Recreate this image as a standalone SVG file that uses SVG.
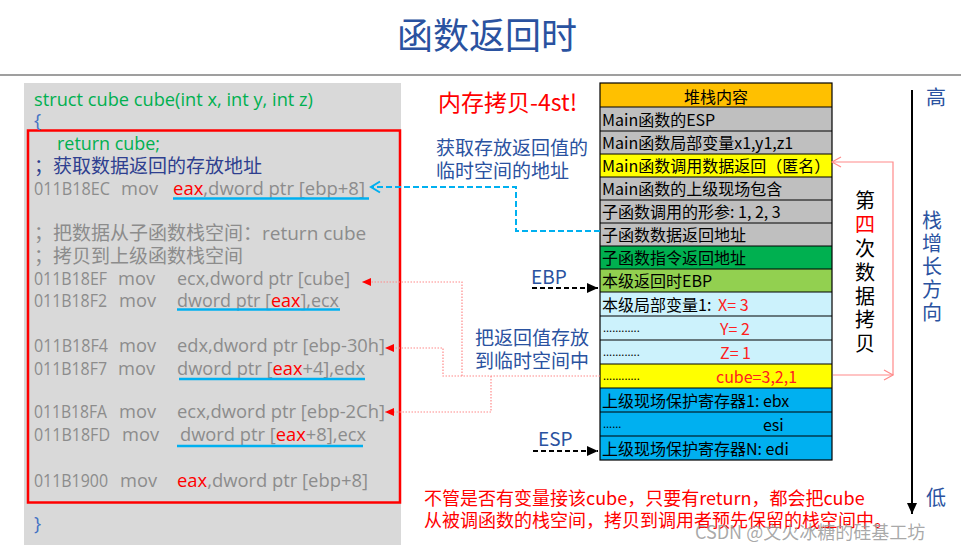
<svg xmlns="http://www.w3.org/2000/svg" width="961" height="548" viewBox="0 0 961 548">
<style>
text{font-family:"Open Sans","Noto Sans CJK SC",sans-serif}
.cjk{font-family:"Noto Sans CJK SC","Noto Sans",sans-serif}
.code{font-size:19px;fill:#8C8C8C}
.red{fill:#FF0000}
.grn{fill:#00B050}
.blue{fill:#2A52A0}
.row{stroke:#000;stroke-width:1}
.rt{font-family:"Noto Sans CJK SC",sans-serif;font-size:16px;fill:#000}
.rr{font-family:"Noto Sans CJK SC",sans-serif;font-size:16px;fill:#FF2020}
.dots{font-family:"Noto Sans CJK SC",sans-serif;font-size:11px;fill:#000}
.ul{stroke:#00B0F0;stroke-width:2.5}
.pink{fill:none;stroke:#FF8A8A;stroke-width:1.2;stroke-dasharray:1.5 1.5}
.vt{font-family:"Noto Sans CJK SC",sans-serif;font-size:20px;text-anchor:middle}
</style>
<defs>
<marker id="arrBlk" markerUnits="userSpaceOnUse" markerWidth="12" markerHeight="12" viewBox="0 0 12 12" refX="11" refY="6" orient="auto"><path d="M0,1 L11,6 L0,11 Z" fill="#000"/></marker>
<marker id="arrRed" markerUnits="userSpaceOnUse" markerWidth="10" markerHeight="10" viewBox="0 0 10 10" refX="9" refY="5" orient="auto"><path d="M0,1 L9,5 L0,9 Z" fill="#FF0000"/></marker>
<marker id="chevCyan" markerUnits="userSpaceOnUse" markerWidth="14" markerHeight="14" viewBox="0 0 14 14" refX="12" refY="7" orient="auto"><path d="M3,1.5 L12,7 L3,12.5" fill="none" stroke="#00B0F0" stroke-width="2"/></marker>
<marker id="chevPink" markerUnits="userSpaceOnUse" markerWidth="14" markerHeight="14" viewBox="0 0 14 14" refX="12" refY="7" orient="auto"><path d="M3,2 L12,7 L3,12" fill="none" stroke="#FF8A8A" stroke-width="1.2"/></marker>
</defs>
<rect width="961" height="548" fill="#FFFFFF"/>

<g id="title">
<text class="cjk blue" x="487" y="49" font-size="36" text-anchor="middle">函数返回时</text>
<line x1="0" y1="75" x2="961" y2="75" stroke="#7F7F7F" stroke-width="1.5"/>
</g>

<g id="code-panel">
<rect x="24" y="83" width="377" height="462" fill="#D9D9D9"/>
<rect x="28" y="130.5" width="372" height="372" fill="none" stroke="#FF0000" stroke-width="2.5"/>
<text class="grn" x="34" y="106" font-size="19" textLength="279" lengthAdjust="spacingAndGlyphs">struct cube cube(int x, int y, int z)</text>
<text x="34" y="127" font-size="19" fill="#4472C4">{</text>
<text class="grn" x="57" y="150" font-size="19" textLength="103" lengthAdjust="spacingAndGlyphs">return cube;</text>
<text class="cjk" x="34" y="173" font-size="19" fill="#2E3F8F">；获取数据返回的存放地址</text>

<text class="code" x="34" y="195" textLength="76" lengthAdjust="spacingAndGlyphs">011B18EC</text>
<text class="code" x="121" y="195" textLength="37" lengthAdjust="spacingAndGlyphs">mov</text>
<text class="code" x="173" y="195" textLength="192" lengthAdjust="spacingAndGlyphs"><tspan class="red">eax</tspan>,dword ptr [ebp+8]</text>
<line class="ul" x1="173" y1="198.5" x2="369" y2="198.5"/>

<text class="code cjk" x="34" y="240">；把数据从子函数栈空间：<tspan style="font-family:'Open Sans',sans-serif">return cube</tspan></text>
<text class="code cjk" x="34" y="263">；拷贝到上级函数栈空间</text>

<text class="code" x="34" y="285" textLength="73" lengthAdjust="spacingAndGlyphs">011B18EF</text>
<text class="code" x="118" y="285" textLength="37" lengthAdjust="spacingAndGlyphs">mov</text>
<text class="code" x="177" y="285" textLength="173" lengthAdjust="spacingAndGlyphs">ecx,dword ptr [cube]</text>

<text class="code" x="34" y="307" textLength="73" lengthAdjust="spacingAndGlyphs">011B18F2</text>
<text class="code" x="119" y="307" textLength="37" lengthAdjust="spacingAndGlyphs">mov</text>
<text class="code" x="177" y="307" textLength="162" lengthAdjust="spacingAndGlyphs">dword ptr [<tspan class="red">eax</tspan>],ecx</text>
<line class="ul" x1="177" y1="309.5" x2="340" y2="309.5"/>

<text class="code" x="34" y="352" textLength="74" lengthAdjust="spacingAndGlyphs">011B18F4</text>
<text class="code" x="119" y="352" textLength="37" lengthAdjust="spacingAndGlyphs">mov</text>
<text class="code" x="177" y="352" textLength="208" lengthAdjust="spacingAndGlyphs">edx,dword ptr [ebp-30h]</text>

<text class="code" x="34" y="375" textLength="73" lengthAdjust="spacingAndGlyphs">011B18F7</text>
<text class="code" x="118" y="375" textLength="37" lengthAdjust="spacingAndGlyphs">mov</text>
<text class="code" x="177" y="375" textLength="188" lengthAdjust="spacingAndGlyphs">dword ptr [<tspan class="red">eax</tspan>+4],edx</text>
<line class="ul" x1="179" y1="379" x2="365" y2="379"/>

<text class="code" x="34" y="418" textLength="73" lengthAdjust="spacingAndGlyphs">011B18FA</text>
<text class="code" x="119" y="418" textLength="37" lengthAdjust="spacingAndGlyphs">mov</text>
<text class="code" x="177" y="418" textLength="208" lengthAdjust="spacingAndGlyphs">ecx,dword ptr [ebp-2Ch]</text>

<text class="code" x="34" y="441" textLength="76" lengthAdjust="spacingAndGlyphs">011B18FD</text>
<text class="code" x="122" y="441" textLength="37" lengthAdjust="spacingAndGlyphs">mov</text>
<text class="code" x="180" y="441" textLength="186" lengthAdjust="spacingAndGlyphs">dword ptr [<tspan class="red">eax</tspan>+8],ecx</text>
<line class="ul" x1="177" y1="446" x2="363" y2="446"/>

<text class="code" x="34" y="487" textLength="74" lengthAdjust="spacingAndGlyphs">011B1900</text>
<text class="code" x="120" y="487" textLength="37" lengthAdjust="spacingAndGlyphs">mov</text>
<text class="code" x="177" y="487" textLength="191" lengthAdjust="spacingAndGlyphs"><tspan class="red">eax</tspan>,dword ptr [ebp+8]</text>

<text x="34" y="530" font-size="19" fill="#4472C4">}</text>
</g>

<g id="notes">
<text class="cjk red" x="438" y="111" font-size="23">内存拷贝-4st!</text>
<text class="cjk blue" x="436" y="155" font-size="19">获取存放返回值的</text>
<text class="cjk blue" x="436" y="178" font-size="19">临时空间的地址</text>
<text class="cjk blue" x="475" y="345" font-size="19">把返回值存放</text>
<text class="cjk blue" x="475" y="368" font-size="19">到临时空间中</text>
<text class="cjk red" x="424" y="505" font-size="18">不管是否有变量接该cube，只要有return，都会把cube</text>
<text class="cjk red" x="424" y="527" font-size="18">从被调函数的栈空间，拷贝到调用者预先保留的栈空间中。</text>
</g>

<g id="stack">
<rect x="600" y="83" width="232" height="24" fill="#FFC000"/>
<rect x="600" y="107" width="232" height="47" fill="#BFBFBF"/>
<rect x="600" y="154" width="232" height="23" fill="#FFFF00"/>
<rect x="600" y="177" width="232" height="69" fill="#BFBFBF"/>
<rect x="600" y="246" width="232" height="23" fill="#00B050"/>
<rect x="600" y="269" width="232" height="23" fill="#92D050"/>
<rect x="600" y="292" width="232" height="72" fill="#CCF2FC"/>
<rect x="600" y="364" width="232" height="24" fill="#FFFF00"/>
<rect x="600" y="388" width="232" height="72" fill="#00B0F0"/>
<g class="row">
<line x1="600" y1="107" x2="832" y2="107"/><line x1="600" y1="131" x2="832" y2="131"/>
<line x1="600" y1="154" x2="832" y2="154"/><line x1="600" y1="177" x2="832" y2="177"/>
<line x1="600" y1="200" x2="832" y2="200"/><line x1="600" y1="223" x2="832" y2="223"/>
<line x1="600" y1="246" x2="832" y2="246"/><line x1="600" y1="269" x2="832" y2="269"/>
<line x1="600" y1="292" x2="832" y2="292"/><line x1="600" y1="316" x2="832" y2="316"/>
<line x1="600" y1="340" x2="832" y2="340"/><line x1="600" y1="364" x2="832" y2="364"/>
<line x1="600" y1="388" x2="832" y2="388"/><line x1="600" y1="412" x2="832" y2="412"/>
<line x1="600" y1="436" x2="832" y2="436"/>
</g>
<rect x="600" y="83" width="232" height="377" fill="none" stroke="#000" stroke-width="1.2"/>
<text class="rt" x="716" y="103" text-anchor="middle">堆栈内容</text>
<text class="rt" x="602" y="126">Main函数的ESP</text>
<text class="rt" x="602" y="149">Main函数局部变量x1,y1,z1</text>
<text class="rt" x="602" y="172">Main函数调用数据返回（匿名）</text>
<text class="rt" x="602" y="195">Main函数的上级现场包含</text>
<text class="rt" x="602" y="218">子函数调用的形参: 1, 2, 3</text>
<text class="rt" x="602" y="241">子函数数据返回地址</text>
<text class="rt" x="602" y="264">子函数指令返回地址</text>
<text class="rt" x="602" y="287">本级返回时EBP</text>
<text class="rt" x="602" y="311">本级局部变量1: </text>
<text class="rr" x="718" y="311">X= 3</text>
<text class="dots" x="603" y="332">............</text>
<text class="rr" x="720" y="335">Y= 2</text>
<text class="dots" x="603" y="356">............</text>
<text class="rr" x="720" y="359">Z= 1</text>
<text class="dots" x="603" y="380">............</text>
<text class="rr" x="716" y="383">cube=3,2,1</text>
<text class="rt" x="602" y="407">上级现场保护寄存器1: ebx</text>
<text class="dots" x="603" y="428">......</text>
<text class="rt" x="763" y="431">esi</text>
<text class="rt" x="602" y="455">上级现场保护寄存器N: edi</text>
</g>

<g id="ebp-label">
<text class="cjk blue" x="531" y="284" font-size="19">EBP</text>
</g>
<g id="esp-label">
<text class="cjk blue" x="538" y="446" font-size="19">ESP</text>
</g>

<g id="side-labels">
<text class="vt" fill="#000"><tspan x="865" y="208">第</tspan><tspan x="865" y="232" fill="#FF0000">四</tspan><tspan x="865" y="256">次</tspan><tspan x="865" y="280">数</tspan><tspan x="865" y="304">据</tspan><tspan x="865" y="327">拷</tspan><tspan x="865" y="351">贝</tspan></text>
<text class="vt blue" x="936" y="105">高</text>
<text class="vt blue"><tspan x="932" y="228">栈</tspan><tspan x="932" y="251">增</tspan><tspan x="932" y="274">长</tspan><tspan x="932" y="297">方</tspan><tspan x="932" y="320">向</tspan></text>
<text class="vt blue" x="936" y="505">低</text>
</g>

<g id="connectors">
<path d="M600 231 H516 V187 H371" fill="none" stroke="#00B0F0" stroke-width="2" stroke-dasharray="6 3" marker-end="url(#chevCyan)"/>
<path class="pink" d="M600 376 H462 V282 H362" marker-end="url(#arrRed)"/>
<path class="pink" d="M462 376 H443 V348 H385" marker-end="url(#arrRed)"/>
<path class="pink" d="M491 376 V412 H385" marker-end="url(#arrRed)"/>
<path d="M833 375 H893" fill="none" stroke="#FF8A8A" stroke-width="1.2" marker-end="url(#chevPink)"/>
<path d="M893 375 V162 H832" fill="none" stroke="#FF8A8A" stroke-width="1.2" marker-end="url(#chevPink)"/>
<path d="M532 288 H598" fill="none" stroke="#000" stroke-width="2" stroke-dasharray="5 3" marker-end="url(#arrBlk)"/>
<path d="M533 451 H598" fill="none" stroke="#000" stroke-width="2" stroke-dasharray="5 3" marker-end="url(#arrBlk)"/>
<path d="M912 90 V514" fill="none" stroke="#000" stroke-width="2" marker-end="url(#arrBlk)"/>
</g>

<g id="watermark">
<text class="cjk" x="695" y="539" font-size="18" fill="#9A9A9A" fill-opacity="0.85">CSDN @文火冰糖的硅基工坊</text>
</g>
</svg>
